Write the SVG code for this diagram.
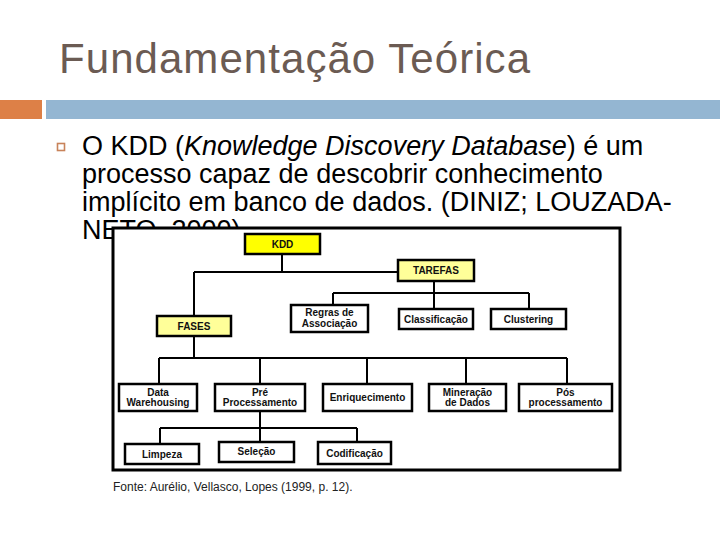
<svg xmlns="http://www.w3.org/2000/svg" width="720" height="540" viewBox="0 0 720 540">
<style>
.title{font-family:"Liberation Sans",Arial,sans-serif;font-size:42px;fill:#6b5b53}
.body{font-family:"Liberation Sans",Arial,sans-serif;font-size:27px;fill:#000}
.box{fill:#fff;stroke:#000;stroke-width:2.5}
.yel{fill:#ffff00}
.pale{fill:#ffff99}
.lbl{font-family:"Liberation Sans",Arial,sans-serif;font-size:10px;font-weight:bold;fill:#111;text-anchor:middle}
.conn{fill:none;stroke:#000;stroke-width:2}
.src{font-family:"Liberation Sans",Arial,sans-serif;font-size:12px;fill:#222}
</style>
<rect width="720" height="540" fill="#fff"/>
<text class="title" x="59" y="73" textLength="471" lengthAdjust="spacing">Fundamentação Teórica</text>
<rect x="0" y="100" width="42" height="19" fill="#dd8047"/>
<rect x="46" y="100" width="674" height="19" fill="#94b6d2"/>
<rect x="57.5" y="143.5" width="7" height="7" fill="none" stroke="#c8835a" stroke-width="1.6"/>
<text class="body" x="82" y="155">O KDD (<tspan font-style="italic">Knowledge Discovery Database</tspan>) é um</text>
<text class="body" x="82" y="183">processo capaz de descobrir conhecimento</text>
<text class="body" x="82" y="211">implícito em banco de dados. (DINIZ; LOUZADA-</text>
<text class="body" x="82" y="239">NETO, 2000)</text>
<rect id="frame" x="113" y="228" width="507" height="242" fill="#fff" stroke="#000" stroke-width="3"/>
<g id="connectors">
<path class="conn" d="M282 255V272M194 272H397M194 272V315"/>
<path class="conn" d="M434 282V293M333 293H529M333 293V304M434 293V308M529 293V308"/>
<path class="conn" d="M194 337V358M159 358H567M159 358V383M260 358V383M367 358V383M466 358V383M567 358V383"/>
<path class="conn" d="M260 412V428M160 428H357M160 428V443M260 428V441M357 428V441"/>
</g>
<g id="kdd"><rect class="box yel" x="245" y="234" width="75" height="20"/><text class="lbl" x="282.5" y="247.5">KDD</text></g>
<g id="tarefas"><rect class="box pale" x="398" y="260" width="76" height="21"/><text class="lbl" x="436" y="274">TAREFAS</text></g>
<g id="fases"><rect class="box pale" x="157" y="316" width="74" height="20"/><text class="lbl" x="194" y="329.5">FASES</text></g>
<g id="regras"><rect class="box" x="291" y="305" width="77" height="27"/><text class="lbl" x="329.5" y="316">Regras de</text><text class="lbl" x="329.5" y="326.5">Associação</text></g>
<g id="classificacao"><rect class="box" x="399" y="309" width="74" height="20"/><text class="lbl" x="436" y="322.5">Classificação</text></g>
<g id="clustering"><rect class="box" x="491" y="309" width="75" height="20"/><text class="lbl" x="528.5" y="322.5">Clustering</text></g>
<g id="datawarehousing"><rect class="box" x="119" y="384" width="78" height="27"/><text class="lbl" x="158" y="395.5">Data</text><text class="lbl" x="158" y="406">Warehousing</text></g>
<g id="preprocessamento"><rect class="box" x="215" y="384" width="90" height="27"/><text class="lbl" x="260" y="395.5">Pré</text><text class="lbl" x="260" y="406">Processamento</text></g>
<g id="enriquecimento"><rect class="box" x="323" y="384" width="89" height="27"/><text class="lbl" x="367.5" y="401">Enriquecimento</text></g>
<g id="mineracao"><rect class="box" x="429" y="384" width="77" height="27"/><text class="lbl" x="467.5" y="395.5">Mineração</text><text class="lbl" x="467.5" y="406">de Dados</text></g>
<g id="posprocessamento"><rect class="box" x="519" y="384" width="93" height="27"/><text class="lbl" x="565.5" y="395.5">Pós</text><text class="lbl" x="565.5" y="406">processamento</text></g>
<g id="limpeza"><rect class="box" x="125" y="444" width="74" height="20"/><text class="lbl" x="162" y="457.5">Limpeza</text></g>
<g id="selecao"><rect class="box" x="219" y="442" width="75" height="20" stroke-width="3"/><text class="lbl" x="256.5" y="455">Seleção</text></g>
<g id="codificacao"><rect class="box" x="318" y="442" width="73" height="22"/><text class="lbl" x="354.5" y="457">Codificação</text></g>
<text class="src" x="113" y="490.5">Fonte: Aurélio, Vellasco, Lopes (1999, p. 12).</text>
</svg>
